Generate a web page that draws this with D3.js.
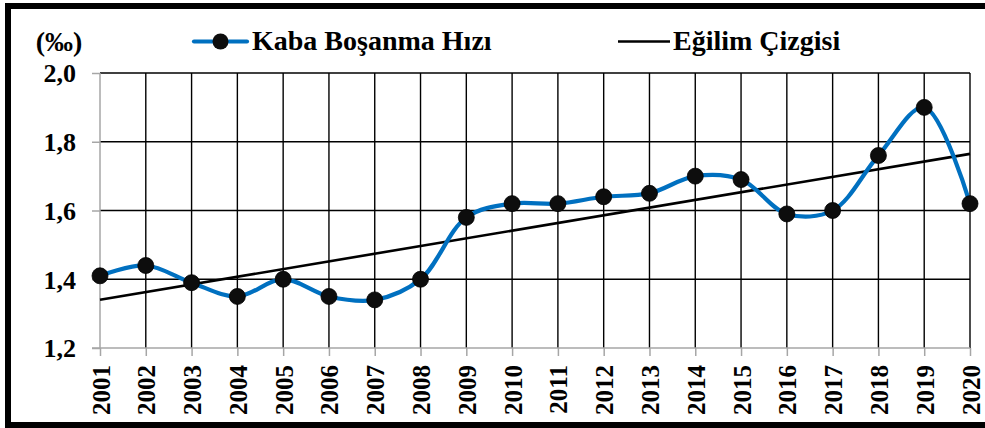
<!DOCTYPE html>
<html>
<head>
<meta charset="utf-8">
<script src="https://cdn.jsdelivr.net/npm/d3@7"></script>
<style>
  html, body { margin: 0; padding: 0; background: #fff; }
  svg { display: block; }
  text { font-family: "Liberation Serif", "DejaVu Serif", serif; font-weight: bold; fill: #000; }
</style>
</head>
<body>
<svg id="chart" width="985" height="428"></svg>
<script>
const years = ["2001","2002","2003","2004","2005","2006","2007","2008","2009","2010",
               "2011","2012","2013","2014","2015","2016","2017","2018","2019","2020"];
const divorceRate = [1.41,1.44,1.39,1.35,1.40,1.35,1.34,1.40,1.58,1.62,
                     1.62,1.64,1.65,1.70,1.69,1.59,1.60,1.76,1.90,1.62];
const yTicks = [1.2, 1.4, 1.6, 1.8, 2.0];
const seriesName = "Kaba Boşanma Hızı";
const trendName = "Eğilim Çizgisi";
const unitLabel = "(‰)";

const svg = d3.select("#chart");

// frame
svg.append("rect").attr("x", 8).attr("y", 6).attr("width", 990).attr("height", 419)
  .attr("fill", "none").attr("stroke", "#000").attr("stroke-width", 6);

const x = d3.scalePoint().domain(years).range([100, 970]);
const y = d3.scaleLinear().domain([1.2, 2.0]).range([348, 73]);

// horizontal gridlines
svg.append("g").selectAll("line").data(yTicks.filter(d => d > 1.2)).join("line")
  .attr("x1", 100).attr("x2", 970)
  .attr("y1", d => y(d)).attr("y2", d => y(d))
  .attr("stroke", "#000").attr("stroke-width", 1.4);

// vertical gridlines
svg.append("g").selectAll("line").data(years.slice(1)).join("line")
  .attr("x1", d => x(d)).attr("x2", d => x(d))
  .attr("y1", y(2.0)).attr("y2", y(1.2))
  .attr("stroke", "#000").attr("stroke-width", 1.4);

// y axis
const yAxis = d3.axisLeft(y).tickValues(yTicks).tickSize(8)
  .tickFormat(d => d3.format(".1f")(d).replace(".", ","));
const gy = svg.append("g").attr("transform", "translate(100,0)").call(yAxis);
gy.select(".domain").attr("stroke", "#a6a6a6").attr("stroke-width", 1.5).attr("d", `M0,${y(2.0)}V${y(1.2)}`);
gy.selectAll(".tick line").attr("stroke", "#a6a6a6").attr("stroke-width", 1.5);
gy.selectAll(".tick text").attr("x", -24).attr("dy", "0.34em")
  .style("font-size", "26px").style("font-family", "Liberation Serif").style("font-weight", "bold").attr("fill", "#000");

// x axis
const xAxis = d3.axisBottom(x).tickSize(8).tickSizeOuter(0);
const gx = svg.append("g").attr("transform", `translate(0,${y(1.2)})`).call(xAxis);
gx.select(".domain").attr("stroke", "#a6a6a6").attr("stroke-width", 1.5).attr("d", "M92,0H970");
gx.selectAll(".tick line").attr("stroke", "#a6a6a6").attr("stroke-width", 1.5);
gx.selectAll(".tick text")
  .attr("transform", "rotate(-90)")
  .attr("x", -17).attr("y", 0).attr("dy", "0.36em")
  .attr("text-anchor", "end")
  .style("font-size", "25px").style("font-family", "Liberation Serif").style("font-weight", "bold").attr("fill", "#000");

// trend line (least squares from the series)
const n = divorceRate.length;
const idx = d3.range(n);
const mx = d3.mean(idx), my = d3.mean(divorceRate);
const slope = d3.sum(idx, i => (i - mx) * (divorceRate[i] - my)) / d3.sum(idx, i => (i - mx) ** 2);
const icpt = my - slope * mx;
svg.append("line")
  .attr("x1", x(years[0])).attr("y1", y(icpt))
  .attr("x2", x(years[n - 1])).attr("y2", y(icpt + slope * (n - 1)))
  .attr("stroke", "#000").attr("stroke-width", 2.6);

// smoothed series
const line = d3.line().x((d, i) => x(years[i])).y(d => y(d)).curve(d3.curveCatmullRom.alpha(0.5));
svg.append("path").datum(divorceRate).attr("d", line)
  .attr("fill", "none").attr("stroke", "#0070C0").attr("stroke-width", 4.2).attr("stroke-linecap", "round");

svg.append("g").selectAll("circle").data(divorceRate).join("circle")
  .attr("cx", (d, i) => x(years[i])).attr("cy", d => y(d)).attr("r", 8)
  .attr("fill", "#0d0d0d").attr("stroke", "#000").attr("stroke-width", 0.8);

// unit label
svg.append("text").attr("x", 59).attr("y", 51).attr("text-anchor", "middle")
  .style("font-size", "28px").text(unitLabel);

// legend
const lg = svg.append("g");
lg.append("line").attr("x1", 194).attr("x2", 247).attr("y1", 41.5).attr("y2", 41.5)
  .attr("stroke", "#0070C0").attr("stroke-width", 4.2).attr("stroke-linecap", "round");
lg.append("circle").attr("cx", 220.5).attr("cy", 41.5).attr("r", 8).attr("fill", "#0d0d0d");
lg.append("text").attr("x", 252).attr("y", 50).style("font-size", "28px").text(seriesName);
lg.append("line").attr("x1", 618).attr("x2", 670).attr("y1", 41.5).attr("y2", 41.5)
  .attr("stroke", "#000").attr("stroke-width", 2.6);
lg.append("text").attr("x", 673).attr("y", 50).style("font-size", "28px").text(trendName);
</script>
</body>
</html>
